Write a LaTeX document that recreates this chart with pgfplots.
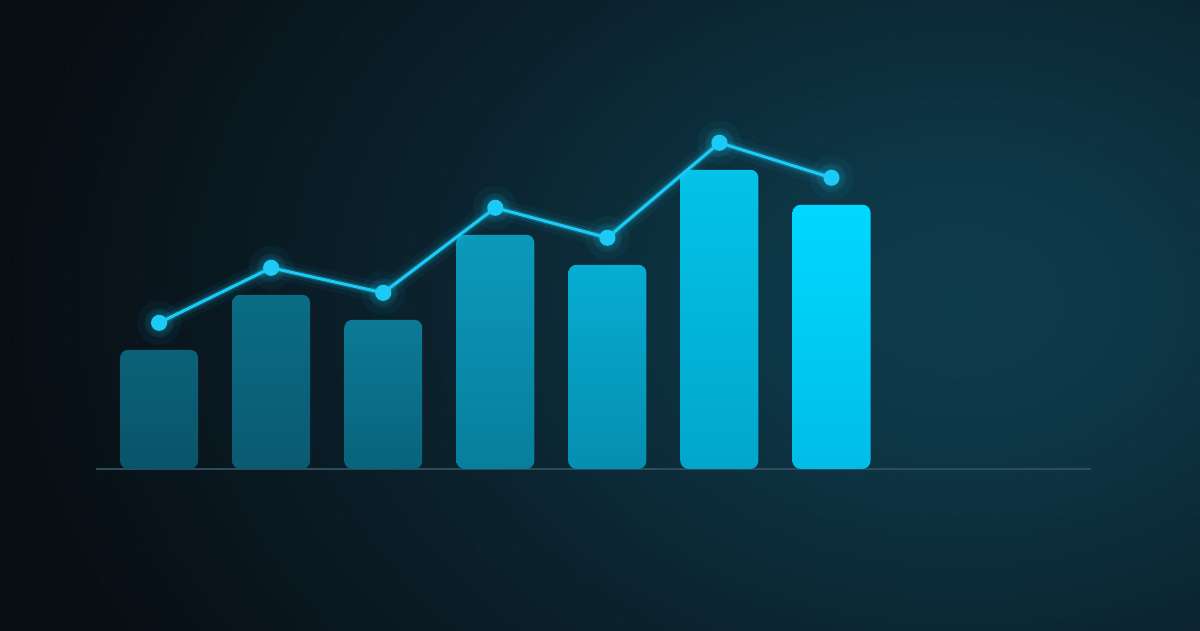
\documentclass[border=0pt]{standalone}
\usepackage{pgfplots}
\pgfplotsset{compat=1.18}

\definecolor{bgdark}{HTML}{080E14}
\definecolor{glowc}{HTML}{0E3B4C}
\definecolor{basecol}{HTML}{2C4C5A}
\definecolor{linec}{HTML}{1CCBF5}
\definecolor{bAt}{HTML}{0B6278}\definecolor{bAb}{HTML}{09546A}
\definecolor{bBt}{HTML}{0B6C85}\definecolor{bBb}{HTML}{0A5A72}
\definecolor{bCt}{HTML}{0C7A96}\definecolor{bCb}{HTML}{09637C}
\definecolor{bDt}{HTML}{0B99BB}\definecolor{bDb}{HTML}{087E9C}
\definecolor{bEt}{HTML}{07ADD2}\definecolor{bEb}{HTML}{058EB0}
\definecolor{bFt}{HTML}{03C3E8}\definecolor{bFb}{HTML}{02A6CC}
\definecolor{bGt}{HTML}{00D8FF}\definecolor{bGb}{HTML}{00BDE8}

\pgfdeclareradialshading{glow}{\pgfpoint{0bp}{0bp}}{%
  color(0bp)=(glowc); color(5bp)=(glowc!90!bgdark);
  color(14bp)=(glowc!45!bgdark); color(25bp)=(bgdark); color(50bp)=(bgdark)}

% line values (height above the baseline)
\pgfplotstableread{
x line
0 146
1 201
2 176
3 261
4 231
5 326
6 291
}\linetable

\begin{document}
\begin{tikzpicture}[x=0.01cm,y=0.01cm]
  \begin{scope}
    \clip (-5,-5) rectangle (1205,635);
    \fill[bgdark] (-5,-5) rectangle (1205,635);
    \fill[shading=glow] (960,330) ellipse (950 and 700);
    \foreach \i in {1,...,35}{
      \foreach \j in {1,...,18}{
        \fill[white, opacity=0.03] (\i*34.25, 630-\j*34.25) circle (1.2);
      }
    }
  \end{scope}
  \begin{axis}[
      at={(0,0)}, anchor=south west,
      scale only axis, width=12cm, height=6.3cm,
      xmin=-1.4196, xmax=9.2946,
      ymin=-161, ymax=469,
      hide axis, clip=false,
      every axis plot/.append style={bar shift=0pt, bar width=0.696, draw=none,
        rounded corners=0.8mm},
    ]
    \draw[basecol, line width=0.15mm] (axis cs:-0.5625,0) -- (axis cs:8.3125,0);

    \addplot[ybar, top color=bAt, bottom color=bAb] coordinates {(0,119)};
    \addplot[ybar, top color=bBt, bottom color=bBb] coordinates {(1,174)};
    \addplot[ybar, top color=bCt, bottom color=bCb] coordinates {(2,149)};
    \addplot[ybar, top color=bDt, bottom color=bDb] coordinates {(3,234)};
    \addplot[ybar, top color=bEt, bottom color=bEb] coordinates {(4,204)};
    \addplot[ybar, top color=bFt, bottom color=bFb] coordinates {(5,299)};
    \addplot[ybar, top color=bGt, bottom color=bGb] coordinates {(6,264)};

    % glow under the line
    \addplot[draw=linec, sharp corners, line width=2.0mm, opacity=0.05,
      mark=*, mark size=1.2mm, mark options={fill=linec, draw=none}] table[x=x, y=line] {\linetable};
    \addplot[draw=linec, sharp corners, line width=1.1mm, opacity=0.10,
      mark=*, mark size=0.9mm, mark options={fill=linec, draw=none}] table[x=x, y=line] {\linetable};
    \addplot[draw=linec, sharp corners, line width=0.6mm, opacity=0.22] table[x=x, y=line] {\linetable};
    \addplot[draw=linec, sharp corners, line width=0.3mm,
      mark=*, mark size=0.65mm, mark options={fill=linec, draw=none}] table[x=x, y=line] {\linetable};
  \end{axis}
  \pgfresetboundingbox
  \path[use as bounding box] (0,0) rectangle (1200,630);
\end{tikzpicture}
\end{document}
